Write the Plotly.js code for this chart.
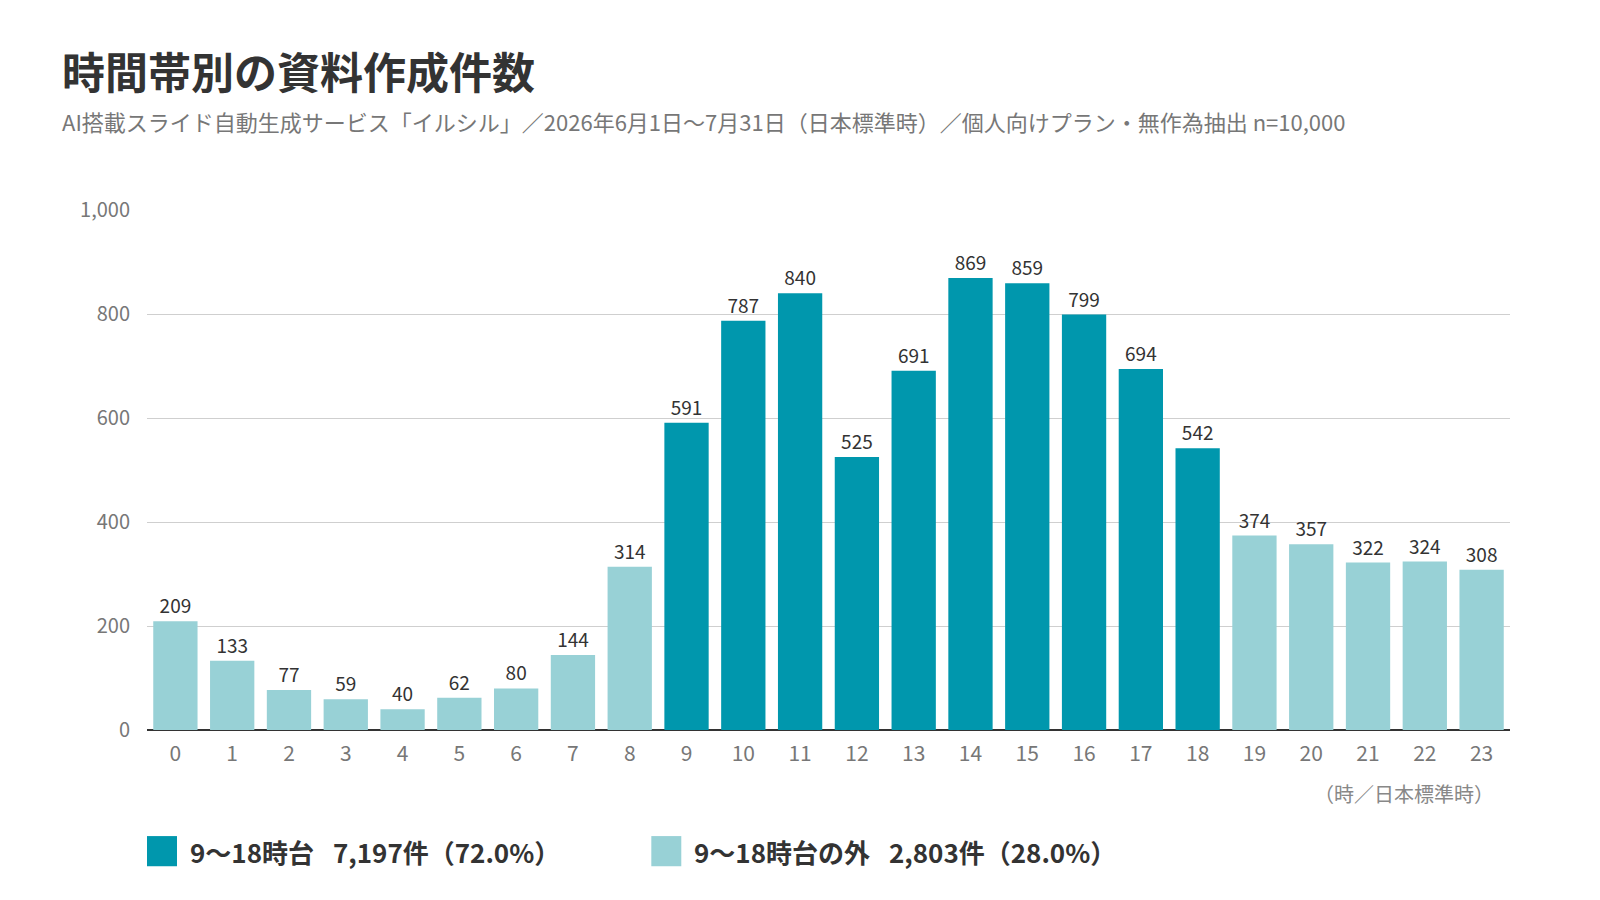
<!DOCTYPE html>
<html>
<head>
<meta charset="utf-8">
<script src="https://cdn.plot.ly/plotly-3.0.1.min.js"></script>
<style>
  html, body { margin: 0; padding: 0; background: #fff; }
  #chart { width: 1600px; height: 900px; }
</style>
</head>
<body>
<div id="chart"></div>
<script>
// hours of day (JST) and number of documents created
const hours = ['0','1','2','3','4','5','6','7','8','9','10','11','12','13','14','15','16','17','18','19','20','21','22','23'];
const counts = [209, 133, 77, 59, 40, 62, 80, 144, 314, 591, 787, 840, 525, 691, 869, 859, 799, 694, 542, 374, 357, 322, 324, 308];
const yTicks = [0, 200, 400, 600, 800, 1000];
const yTickLabels = ['0', '200', '400', '600', '800', '1,000'];
const legendLabels = ['9〜18時台\u2002 7,197件（72.0%）', '9〜18時台の外\u2002 2,803件（28.0%）'];

const DARK = '#0097ad';
const LIGHT = '#98d1d6';
const FONT = '"Noto Sans CJK JP", "Noto Sans", sans-serif';

// 9..18 are the core hours
const barColors = counts.map((v, i) => (i >= 9 && i <= 18) ? DARK : LIGHT);

const trace = {
    type: 'bar',
    x: hours,
    y: counts,
    marker: { color: barColors },
    text: counts.map(String),
    textposition: 'outside',
    cliponaxis: false,
    textfont: { family: FONT, size: 19, color: '#333' },
    hoverinfo: 'x+y'
};

const layout = {
    width: 1600,
    height: 900,
    margin: { l: 147, r: 90, t: 210, b: 170 },
    paper_bgcolor: '#fff',
    plot_bgcolor: '#fff',
    bargap: 0.22,
    showlegend: false,
    font: { family: FONT, color: '#333' },
    xaxis: {
        type: 'category',
        tickfont: { family: FONT, size: 21, color: '#777' },
        ticks: '',
        showline: false,
        showgrid: false,
        ticklabelstandoff: 9
    },
    yaxis: {
        range: [0, 1000],
        tickvals: yTicks,
        ticktext: yTickLabels,
        tickfont: { family: FONT, size: 20, color: '#777' },
        gridcolor: '#cfcfcf',
        gridwidth: 1,
        zeroline: true,
        zerolinecolor: '#333',
        zerolinewidth: 1.2,
        ticks: '',
        ticklabelstandoff: 16
    },
    annotations: [
        {
            text: '<b>時間帯別の資料作成件数</b>',
            xref: 'paper', yref: 'paper', x: -0.064, y: 1.27,
            xanchor: 'left', yanchor: 'middle', showarrow: false,
            font: { family: FONT, size: 43, color: '#333' }
        },
        {
            text: 'AI搭載スライド自動生成サービス「イルシル」／2026年6月1日〜7月31日（日本標準時）／個人向けプラン・無作為抽出 n=10,000',
            xref: 'paper', yref: 'paper', x: -0.064, y: 1.172,
            xanchor: 'left', yanchor: 'middle', showarrow: false,
            font: { family: FONT, size: 22, color: '#777' }
        },
        {
            text: '（時／日本標準時）',
            xref: 'paper', yref: 'paper', x: 0.99, y: -0.122,
            xanchor: 'right', yanchor: 'middle', showarrow: false,
            font: { family: FONT, size: 20, color: '#888' }
        },
        {
            text: '<b>' + legendLabels[0] + '</b>',
            xref: 'paper', yref: 'paper', x: 0.03, y: -0.233,
            xanchor: 'left', yanchor: 'middle', showarrow: false,
            font: { family: FONT, size: 26, color: '#333' }
        },
        {
            text: '<b>' + legendLabels[1] + '</b>',
            xref: 'paper', yref: 'paper', x: 0.4, y: -0.233,
            xanchor: 'left', yanchor: 'middle', showarrow: false,
            font: { family: FONT, size: 26, color: '#333' }
        }
    ],
    shapes: [
        {
            type: 'rect', xref: 'paper', yref: 'paper',
            x0: 0, x1: 0.022, y0: -0.262, y1: -0.204,
            fillcolor: DARK, line: { width: 0 }
        },
        {
            type: 'rect', xref: 'paper', yref: 'paper',
            x0: 0.37, x1: 0.392, y0: -0.262, y1: -0.204,
            fillcolor: LIGHT, line: { width: 0 }
        }
    ]
};

Plotly.newPlot('chart', [trace], layout, { displayModeBar: false, staticPlot: true });
</script>
</body>
</html>
